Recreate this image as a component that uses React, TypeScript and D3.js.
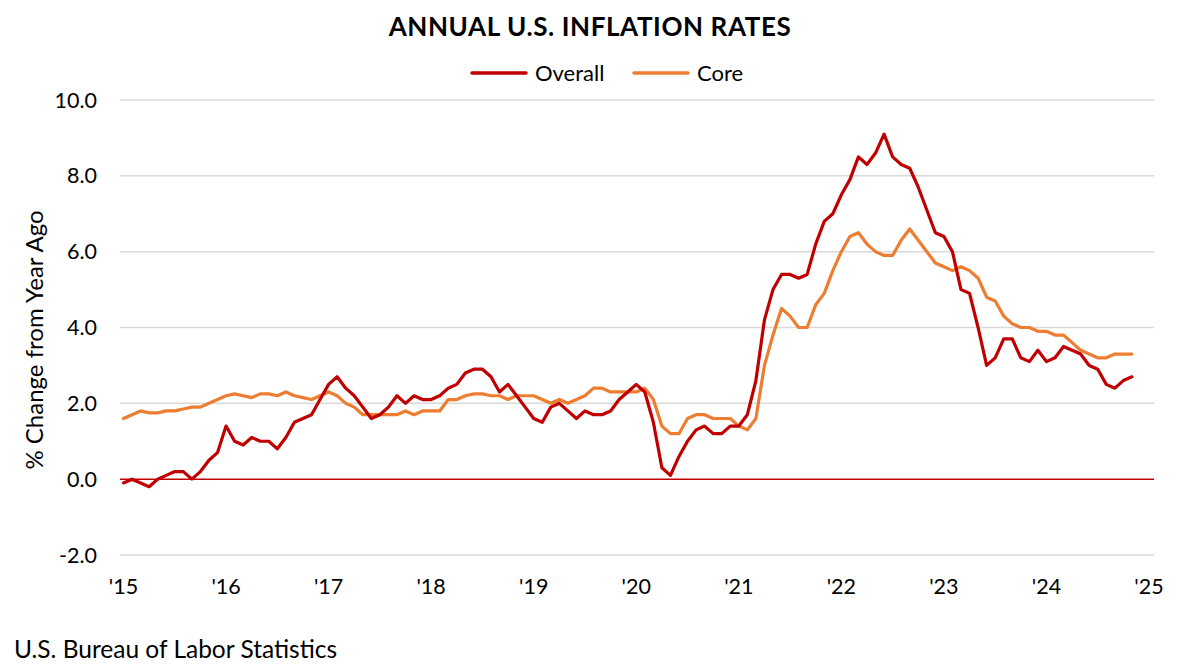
import React from "react";
import * as d3 from "d3";

const overall2015 = [-0.1, 0.0, -0.1, -0.2, 0.0, 0.1, 0.2, 0.2, 0.0, 0.2, 0.5, 0.7];
const overall2016 = [1.4, 1.0, 0.9, 1.1, 1.0, 1.0, 0.8, 1.1, 1.5, 1.6, 1.7, 2.1];
const overall2017 = [2.5, 2.7, 2.4, 2.2, 1.9, 1.6, 1.7, 1.9, 2.2, 2.0, 2.2, 2.1];
const overall2018 = [2.1, 2.2, 2.4, 2.5, 2.8, 2.9, 2.9, 2.7, 2.3, 2.5, 2.2, 1.9];
const overall2019 = [1.6, 1.5, 1.9, 2.0, 1.8, 1.6, 1.8, 1.7, 1.7, 1.8, 2.1, 2.3];
const overall2020 = [2.5, 2.3, 1.5, 0.3, 0.1, 0.6, 1.0, 1.3, 1.4, 1.2, 1.2, 1.4];
const overall2021 = [1.4, 1.7, 2.6, 4.2, 5.0, 5.4, 5.4, 5.3, 5.4, 6.2, 6.8, 7.0];
const overall2022 = [7.5, 7.9, 8.5, 8.3, 8.6, 9.1, 8.5, 8.3, 8.2, 7.7, 7.1, 6.5];
const overall2023 = [6.4, 6.0, 5.0, 4.9, 4.0, 3.0, 3.2, 3.7, 3.7, 3.2, 3.1, 3.4];
const overall2024 = [3.1, 3.2, 3.5, 3.4, 3.3, 3.0, 2.9, 2.5, 2.4, 2.6, 2.7];

const core2015 = [1.6, 1.7, 1.8, 1.75, 1.75, 1.8, 1.8, 1.85, 1.9, 1.9, 2.0, 2.1];
const core2016 = [2.2, 2.25, 2.2, 2.15, 2.25, 2.25, 2.2, 2.3, 2.2, 2.15, 2.1, 2.2];
const core2017 = [2.3, 2.2, 2.0, 1.9, 1.7, 1.7, 1.7, 1.7, 1.7, 1.8, 1.7, 1.8];
const core2018 = [1.8, 1.8, 2.1, 2.1, 2.2, 2.25, 2.25, 2.2, 2.2, 2.1, 2.2, 2.2];
const core2019 = [2.2, 2.1, 2.0, 2.1, 2.0, 2.1, 2.2, 2.4, 2.4, 2.3, 2.3, 2.3];
const core2020 = [2.3, 2.4, 2.1, 1.4, 1.2, 1.2, 1.6, 1.7, 1.7, 1.6, 1.6, 1.6];
const core2021 = [1.4, 1.3, 1.6, 3.0, 3.8, 4.5, 4.3, 4.0, 4.0, 4.6, 4.9, 5.5];
const core2022 = [6.0, 6.4, 6.5, 6.2, 6.0, 5.9, 5.9, 6.3, 6.6, 6.3, 6.0, 5.7];
const core2023 = [5.6, 5.5, 5.6, 5.5, 5.3, 4.8, 4.7, 4.3, 4.1, 4.0, 4.0, 3.9];
const core2024 = [3.9, 3.8, 3.8, 3.6, 3.4, 3.3, 3.2, 3.2, 3.3, 3.3, 3.3];

const overall = [
  ...overall2015, ...overall2016, ...overall2017, ...overall2018, ...overall2019,
  ...overall2020, ...overall2021, ...overall2022, ...overall2023, ...overall2024,
];
const core = [
  ...core2015, ...core2016, ...core2017, ...core2018, ...core2019,
  ...core2020, ...core2021, ...core2022, ...core2023, ...core2024,
];

const xTickLabels = ["'15", "'16", "'17", "'18", "'19", "'20", "'21", "'22", "'23", "'24", "'25"];
const yTicks = [-2, 0, 2, 4, 6, 8, 10];

const seriesNames = ["Overall", "Core"];
const seriesColors = ["#C00000", "#ED7D31"];

const FONT = "Lato, 'Open Sans', sans-serif";

export default function App() {
  const W = 1184;
  const H = 670;
  const x = d3.scaleLinear().domain([0, 120]).range([123.5, 1149]);
  const y = d3.scaleLinear().domain([-2, 10]).range([555, 100]);
  const gridX0 = 120;
  const gridX1 = 1154;

  const line = d3
    .line<number>()
    .x((_, i) => x(i))
    .y((d) => y(d));

  const series = [overall, core];

  return (
    <svg
      width={W}
      height={H}
      style={{ position: "absolute", left: 0, top: 0, background: "#fff" }}
      fontFamily={FONT}
    >
      <rect x={0} y={0} width={W} height={H} fill="#fff" />
      <text x={590} y={36} textAnchor="middle" fontSize={26} fontWeight={700} letterSpacing={0.6} fill="#000">
        ANNUAL U.S. INFLATION RATES
      </text>

      {/* legend */}
      {seriesNames.map((name, i) => {
        const lx = i === 0 ? 472 : 634;
        return (
          <g key={name}>
            <line x1={lx} x2={lx + 54} y1={73} y2={73} stroke={seriesColors[i]} strokeWidth={3.5} strokeLinecap="round" />
            <text x={lx + 63} y={81} fontSize={22} fill="#000">
              {name}
            </text>
          </g>
        );
      })}

      {/* gridlines */}
      {yTicks
        .filter((t) => t !== 0)
        .map((t) => (
          <line key={t} x1={gridX0} x2={gridX1} y1={y(t)} y2={y(t)} stroke="#D9D9D9" strokeWidth={1.5} />
        ))}
      {/* y tick labels */}
      {yTicks.map((t) => (
        <text key={"yl" + t} x={97} y={y(t) + 7.5} textAnchor="end" fontSize={21.5} fill="#000">
          {t.toFixed(1)}
        </text>
      ))}
      {/* x tick labels */}
      {xTickLabels.map((lab, i) => (
        <text key={lab} x={x(i * 12)} y={594} textAnchor="middle" fontSize={21.5} fill="#000">
          {lab}
        </text>
      ))}

      {/* zero axis */}
      <line x1={gridX0} x2={gridX1} y1={y(0)} y2={y(0)} stroke="#C00000" strokeWidth={1.5} />

      {/* series lines */}
      {[1, 0].map((si) => (
        <path
          key={seriesNames[si]}
          d={line(series[si]) || ""}
          fill="none"
          stroke={seriesColors[si]}
          strokeWidth={3.2}
          strokeLinejoin="round"
          strokeLinecap="round"
        />
      ))}

      {/* y axis title */}
      <text
        transform={`translate(43, 340) rotate(-90)`}
        textAnchor="middle"
        fontSize={24}
        fill="#000"
      >
        % Change from Year Ago
      </text>

      {/* source */}
      <text x={14} y={658} fontSize={24.5} fill="#000">
        U.S. Bureau of Labor Statistics
      </text>
    </svg>
  );
}
